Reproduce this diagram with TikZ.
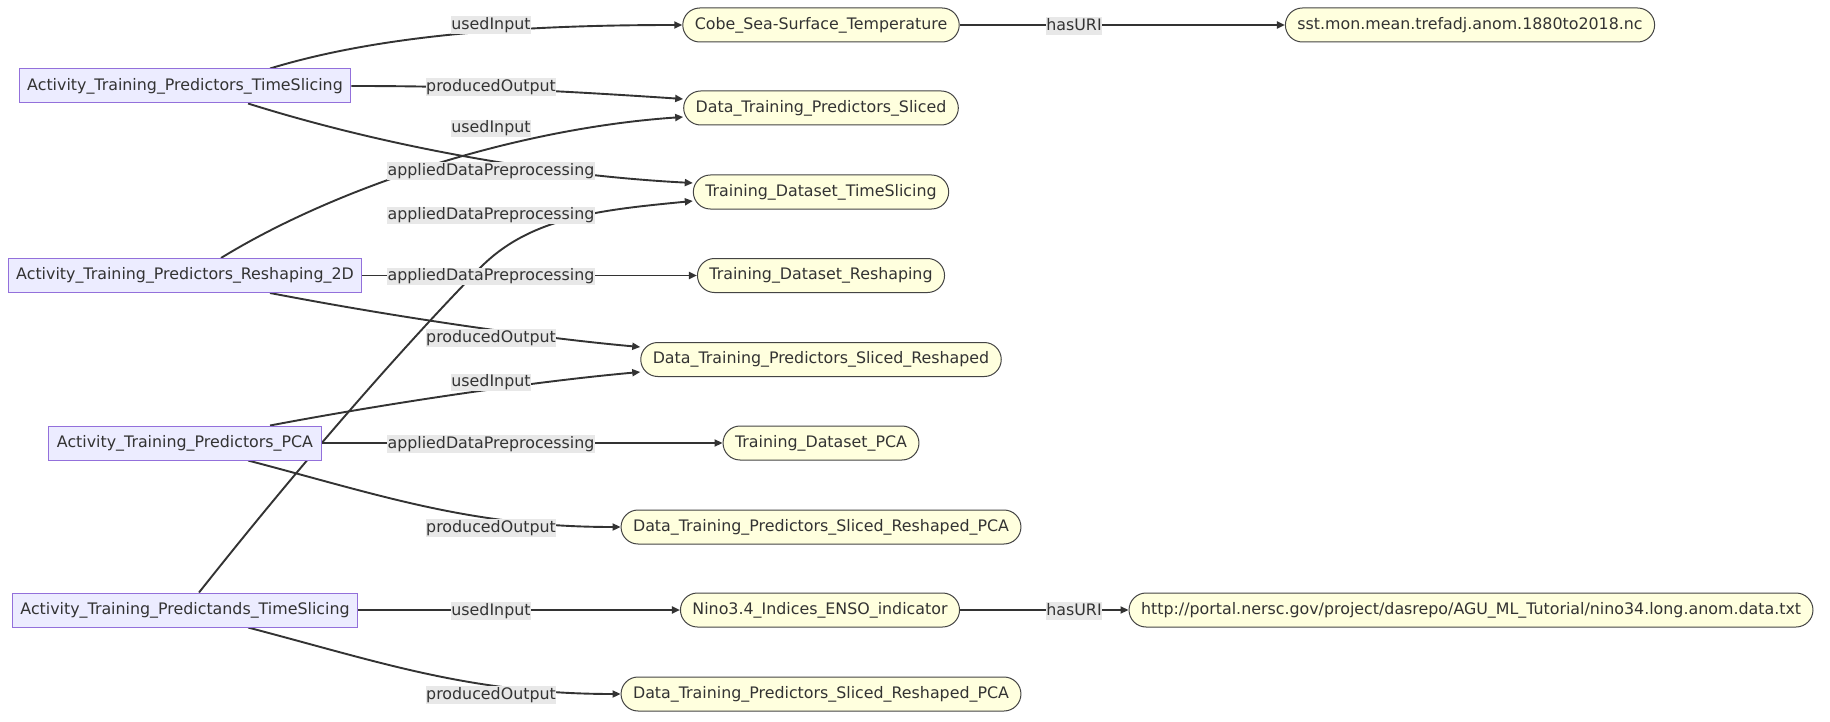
\documentclass[tikz,border=0pt]{standalone}
\usepackage{fontspec}
\setmainfont{DejaVu Sans}
\usetikzlibrary{arrows.meta}
\pgfdeclarelayer{edgelayer}
\pgfsetlayers{edgelayer,main}
\definecolor{actfill}{HTML}{ECECFF}
\definecolor{actdraw}{HTML}{9370DB}
\definecolor{datafill}{HTML}{FFFFDE}
\definecolor{datadraw}{HTML}{444444}
\definecolor{edgecol}{HTML}{333333}
\definecolor{lblfill}{HTML}{E8E8E8}
\definecolor{txtcol}{HTML}{333333}
\tikzset{
  base/.style={font=\fontsize{15.85}{19}\selectfont, text=txtcol, minimum height=34pt, inner ysep=0pt, line width=1pt, text height=12pt, text depth=3.5pt},
  actnode/.style={base, rectangle, fill=actfill, draw=actdraw, inner xsep=8pt},
  datanode/.style={base, rectangle, rounded corners=17pt, fill=datafill, draw=datadraw, inner xsep=12pt},
  lbl/.style={font=\fontsize{15.85}{19}\selectfont, text=txtcol, fill=lblfill, inner xsep=0.5pt, inner ysep=1pt, text height=12pt, text depth=3.5pt},
  conn/.style={draw=edgecol, line width=1.9pt, -{Triangle[length=8pt,width=7pt]}},
}
\begin{document}
\begin{tikzpicture}[x=1pt,y=-1pt]
\begin{pgfonlayer}{edgelayer}
\fill[white] (0,0) rectangle (1830,722);
\end{pgfonlayer}
\useasboundingbox (0,0) rectangle (1830,722);

\path
  (185,86)    node[actnode]  (A1) {Activity\_Training\_Predictors\_TimeSlicing}
  (185,275.5) node[actnode]  (A2) {Activity\_Training\_Predictors\_Reshaping\_2D}
  (185,443)   node[actnode]  (A3) {Activity\_Training\_Predictors\_PCA}
  (185,610)   node[actnode]  (A4) {Activity\_Training\_Predictands\_TimeSlicing}
  (821,25)    node[datanode] (Cobe) {Cobe\_Sea-Surface\_Temperature}
  (821,108)   node[datanode] (DTPS) {Data\_Training\_Predictors\_Sliced}
  (821,192)   node[datanode] (TDTS) {Training\_Dataset\_TimeSlicing}
  (821,275.5) node[datanode] (TDR) {Training\_Dataset\_Reshaping}
  (821,359.5) node[datanode] (DTPSR) {Data\_Training\_Predictors\_Sliced\_Reshaped}
  (821,443)   node[datanode] (TDPCA) {Training\_Dataset\_PCA}
  (821,527)   node[datanode] (PCAa) {Data\_Training\_Predictors\_Sliced\_Reshaped\_PCA}
  (820,610)   node[datanode] (Nino) {Nino3.4\_Indices\_ENSO\_indicator}
  (821,694)   node[datanode] (PCAb) {Data\_Training\_Predictors\_Sliced\_Reshaped\_PCA}
  (1470,25)   node[datanode] (SST) {sst.mon.mean.trefadj.anom.1880to2018.nc}
  (1471,610)  node[datanode] (URL) {http://portal.nersc.gov/project/dasrepo/AGU\_ML\_Tutorial/nino34.long.anom.data.txt};

\begin{pgfonlayer}{edgelayer}
\draw[conn] ([xshift=85pt]A1.north) .. controls (380,35) and (520,25) .. (Cobe.west);
\draw[conn] (A1.east) .. controls (440,86) and (520,88) .. ([yshift=9pt]DTPS.west);
\draw[conn] ([xshift=63pt]A1.south) .. controls (380,145) and (540,175) .. ([yshift=9pt]TDTS.west);
\draw[conn] ([xshift=36pt]A2.north) .. controls (340,185) and (520,128) .. ([yshift=-9pt]DTPS.west);
\draw[conn] (A2.east) -- (TDR.west);
\draw[conn] ([xshift=85pt]A2.south) .. controls (400,318) and (540,338) .. ([yshift=12.5pt]DTPSR.west);
\draw[conn] ([xshift=85pt]A3.north) .. controls (400,401) and (540,381) .. ([yshift=-12.5pt]DTPSR.west);
\draw[conn] (A3.east) -- (TDPCA.west);
\draw[conn] ([xshift=63pt]A3.south) .. controls (380,495) and (470,527) .. (PCAa.west);
\coordinate (bend) at (480,268);
\draw[conn] ([xshift=14pt]A4.north) .. controls (300,465) and (400,350) .. (bend)
   .. controls (530,217) and (600,210) .. ([yshift=-9pt]TDTS.west);
\draw[conn] (A4.east) -- (Nino.west);
\draw[conn] ([xshift=63pt]A4.south) .. controls (380,662) and (470,694) .. (PCAb.west);
\draw[conn] (Cobe.east) -- (SST.west);
\draw[conn] (Nino.east) -- (URL.west);
\end{pgfonlayer}

\node[lbl] (L1)  at (491,25)    {usedInput};
\node[lbl] (L2)  at (491,87)    {producedOutput};
\node[lbl] (L3)  at (491,128.5) {usedInput};
\node[lbl] (L4)  at (491,171)   {appliedDataPreprocessing};
\node[lbl] (L5)  at (491,215.5) {appliedDataPreprocessing};
\node[lbl] (L6)  at (491,276.5) {appliedDataPreprocessing};
\node[lbl] (L7)  at (491,338)   {producedOutput};
\node[lbl] (L8)  at (491,382.7) {usedInput};
\node[lbl] (L9)  at (491,444)   {appliedDataPreprocessing};
\node[lbl] (L10) at (491,528)   {producedOutput};
\node[lbl] (L11) at (491,611)   {usedInput};
\node[lbl] (L12) at (491,695)   {producedOutput};
\node[lbl] (L13) at (1074,26)   {hasURI};
\node[lbl] (L14) at (1074,611)  {hasURI};
\end{tikzpicture}
\end{document}
